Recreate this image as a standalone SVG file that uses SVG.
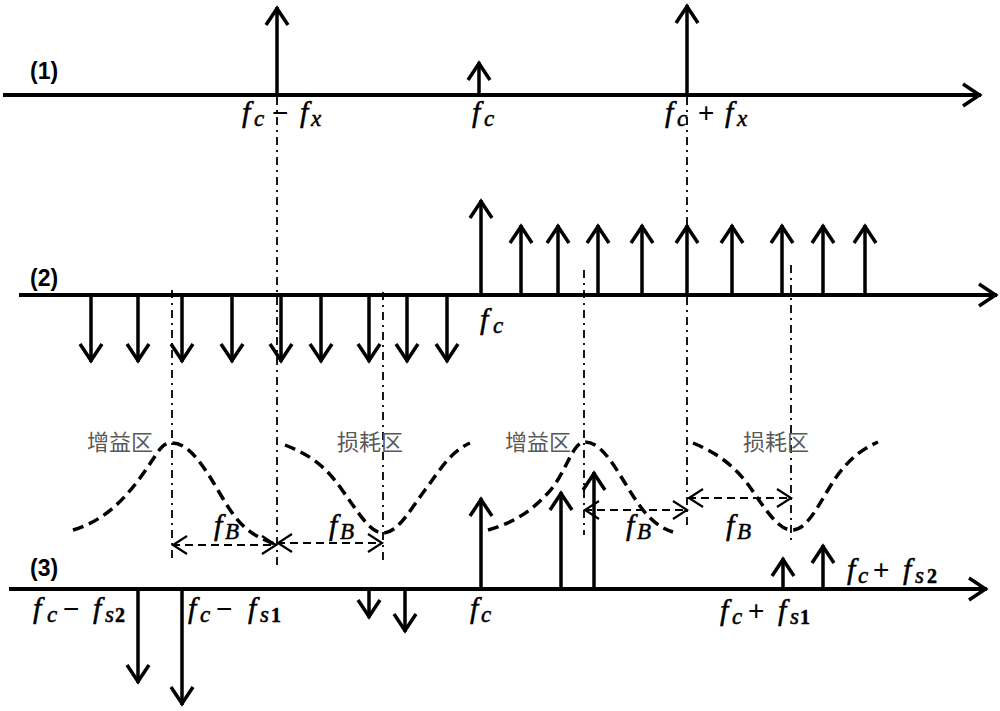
<svg xmlns="http://www.w3.org/2000/svg" width="1000" height="711" viewBox="0 0 1000 711">
<style>
.ax{stroke:#000;stroke-width:4;fill:none;marker-end:url(#ah)}
.st{stroke:#000;stroke-width:3.5;fill:none;marker-end:url(#ah)}
.dd{stroke:#000;stroke-width:1.8;fill:none;stroke-dasharray:8 5 2 5}
.cv{stroke:#000;stroke-width:3.5;fill:none;stroke-dasharray:11 6}
.fb{stroke:#000;stroke-width:2.2;fill:none;stroke-dasharray:8 5;marker-start:url(#sh);marker-end:url(#sh)}
.m{font-family:"Liberation Serif","DejaVu Serif",serif;font-style:italic;font-size:30px;fill:#000;stroke:#000;stroke-width:0.5}
.sb{font-size:23px}
.op{font-family:"Liberation Sans",Arial,sans-serif;font-style:normal;font-size:28px;stroke-width:0}
.nm{font-style:normal;font-weight:bold;font-size:20px}
.lb{font-family:"Liberation Sans",Arial,sans-serif;font-weight:bold;font-size:23px;fill:#000}
.cn{font-family:"Noto Sans CJK SC","Noto Sans",sans-serif;font-size:22px;fill:#595959}
</style>
<defs>
<marker id="ah" markerUnits="userSpaceOnUse" markerWidth="40" markerHeight="40" viewBox="-30 -20 40 40" refX="0" refY="0" orient="auto" overflow="visible">
<path d="M-18,-11 L-1.5,0 L-18,11" fill="none" stroke="#000" stroke-width="3.5"/>
</marker>
<marker id="sh" markerUnits="userSpaceOnUse" markerWidth="40" markerHeight="40" viewBox="-30 -20 40 40" refX="0" refY="0" orient="auto-start-reverse" overflow="visible">
<path d="M-15,-9 L-1,0 L-15,9" fill="none" stroke="#000" stroke-width="2.2"/>
</marker>
</defs>
<rect width="1000" height="711" fill="#fff"/>

<g id="guides">
<line class="dd" x1="172" y1="290" x2="172" y2="560"/>
<line class="dd" x1="277" y1="97" x2="277" y2="565"/>
<line class="dd" x1="383" y1="292" x2="383" y2="562"/>
<line class="dd" x1="584" y1="270" x2="584" y2="535"/>
<line class="dd" x1="687" y1="97" x2="687" y2="530"/>
<line class="dd" x1="791" y1="265" x2="791" y2="540"/>
</g>

<g id="row1">
<line class="ax" x1="3" y1="95" x2="981" y2="95"/>
<line class="st" x1="277" y1="95" x2="277" y2="7"/>
<line class="st" x1="479" y1="95" x2="479" y2="62"/>
<line class="st" x1="687" y1="95" x2="687" y2="5"/>
<text class="lb" x="30" y="79">(1)</text>
<text class="m" y="122"><tspan x="242">f</tspan><tspan class="sb" x="254" y="126">c</tspan><tspan class="op" x="272" y="122">−</tspan><tspan x="300" y="122">f</tspan><tspan class="sb" x="311" y="126">x</tspan></text>
<text class="m" y="122"><tspan x="472">f</tspan><tspan class="sb" x="484" y="126">c</tspan></text>
<text class="m" y="122"><tspan x="665">f</tspan><tspan class="sb" x="677" y="126">c</tspan><tspan class="op" x="698" y="122">+</tspan><tspan x="725" y="122">f</tspan><tspan class="sb" x="737" y="126">x</tspan></text>
</g>

<g id="row2">
<line class="ax" x1="19" y1="295" x2="997" y2="295"/>
<line class="st" x1="481" y1="295" x2="481" y2="200"/>
<line class="st" x1="521" y1="295" x2="521" y2="225"/>
<line class="st" x1="558" y1="295" x2="558" y2="225"/>
<line class="st" x1="598" y1="295" x2="598" y2="225"/>
<line class="st" x1="642" y1="295" x2="642" y2="225"/>
<line class="st" x1="687" y1="295" x2="687" y2="225"/>
<line class="st" x1="732" y1="295" x2="732" y2="225"/>
<line class="st" x1="782" y1="295" x2="782" y2="225"/>
<line class="st" x1="823" y1="295" x2="823" y2="225"/>
<line class="st" x1="865" y1="295" x2="865" y2="225"/>
<line class="st" x1="91" y1="295" x2="91" y2="362"/>
<line class="st" x1="138" y1="295" x2="138" y2="362"/>
<line class="st" x1="182" y1="295" x2="182" y2="362"/>
<line class="st" x1="232" y1="295" x2="232" y2="362"/>
<line class="st" x1="281" y1="295" x2="281" y2="362"/>
<line class="st" x1="321" y1="295" x2="321" y2="362"/>
<line class="st" x1="369" y1="295" x2="369" y2="362"/>
<line class="st" x1="407" y1="295" x2="407" y2="362"/>
<line class="st" x1="447" y1="295" x2="447" y2="362"/>
<text class="lb" x="30" y="286">(2)</text>
<text class="m" y="329"><tspan x="480">f</tspan><tspan class="sb" x="493" y="333">c</tspan></text>
</g>

<g id="curves">
<path class="cv" d="M73,530 C100,522 120,505 140,478 S160,443 172,443 C190,443 205,468 222,497 S250,535 277,545"/>
<path class="cv" d="M285,445 C305,453 322,462 340,487 S370,533 383,533 C398,533 410,510 425,490 S450,452 470,443"/>
<path class="cv" d="M488,530 C515,522 530,512 548,493 S572,442 585,442 C600,442 612,462 625,483 S650,525 673,532"/>
<path class="cv" d="M693,443 C715,452 735,465 752,490 S780,530 792,530 C805,530 815,512 828,490 S855,452 878,442"/>
<text class="cn" x="87" y="450">增益区</text>
<text class="cn" x="337" y="450">损耗区</text>
<text class="cn" x="505" y="450">增益区</text>
<text class="cn" x="743" y="450">损耗区</text>
</g>

<g id="spacing">
<line class="fb" x1="172" y1="545" x2="277" y2="545"/>
<line class="fb" x1="277" y1="543" x2="383" y2="543"/>
<line class="fb" x1="584" y1="510" x2="688" y2="510"/>
<line class="fb" x1="688" y1="498" x2="792" y2="498"/>
<text class="m" y="535"><tspan x="214">f</tspan><tspan class="sb" x="225" y="539">B</tspan></text>
<text class="m" y="535"><tspan x="329">f</tspan><tspan class="sb" x="340" y="539">B</tspan></text>
<text class="m" y="535"><tspan x="626">f</tspan><tspan class="sb" x="637" y="539">B</tspan></text>
<text class="m" y="535"><tspan x="726">f</tspan><tspan class="sb" x="737" y="539">B</tspan></text>
</g>

<g id="row3">
<line class="ax" x1="9" y1="589" x2="987" y2="589"/>
<line class="st" x1="481" y1="589" x2="481" y2="498"/>
<line class="st" x1="561" y1="589" x2="561" y2="492"/>
<line class="st" x1="594" y1="589" x2="594" y2="472"/>
<line class="st" x1="783" y1="589" x2="783" y2="558"/>
<line class="st" x1="823" y1="589" x2="823" y2="545"/>
<line class="st" x1="138" y1="589" x2="138" y2="683"/>
<line class="st" x1="182" y1="589" x2="182" y2="705"/>
<line class="st" x1="369" y1="589" x2="369" y2="618"/>
<line class="st" x1="405" y1="589" x2="405" y2="632"/>
<text class="lb" x="30" y="576">(3)</text>
<text class="m" y="618"><tspan x="33">f</tspan><tspan class="sb" x="47" y="622">c</tspan><tspan class="op" x="63" y="618">−</tspan><tspan x="93" y="618">f</tspan><tspan class="sb" x="105" y="622">s</tspan><tspan class="nm" x="115" y="622">2</tspan></text>
<text class="m" y="618"><tspan x="188">f</tspan><tspan class="sb" x="200" y="622">c</tspan><tspan class="op" x="216" y="618">−</tspan><tspan x="248" y="618">f</tspan><tspan class="sb" x="260" y="622">s</tspan><tspan class="nm" x="271" y="622">1</tspan></text>
<text class="m" y="618"><tspan x="470">f</tspan><tspan class="sb" x="481" y="622">c</tspan></text>
<text class="m" y="620"><tspan x="720">f</tspan><tspan class="sb" x="732" y="624">c</tspan><tspan class="op" x="748" y="620">+</tspan><tspan x="778" y="620">f</tspan><tspan class="sb" x="790" y="624">s</tspan><tspan class="nm" x="800" y="624">1</tspan></text>
<text class="m" y="579"><tspan x="847">f</tspan><tspan class="sb" x="858" y="583">c</tspan><tspan class="op" x="873" y="579">+</tspan><tspan x="903" y="579">f</tspan><tspan class="sb" x="915" y="583">s</tspan><tspan class="nm" x="927" y="583">2</tspan></text>
</g>
</svg>
